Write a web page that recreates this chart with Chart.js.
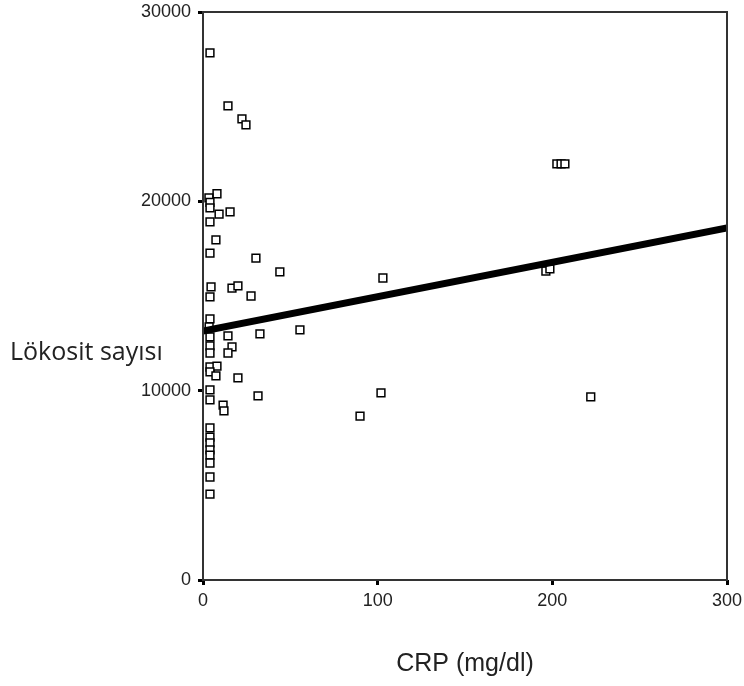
<!DOCTYPE html>
<html>
<head>
<meta charset="utf-8">
<script src="https://cdn.jsdelivr.net/npm/chart.js@4.4.0/dist/chart.umd.min.js"></script>
<style>
  body { margin: 0; background: #fff; }
  #wrap { width: 744px; height: 686px; }
</style>
</head>
<body>
<div id="wrap"><canvas id="chart" width="744" height="686"></canvas></div>
<script>
// CRP values (mg/dl) and matching leukocyte counts
const crp = [4, 14.3, 22.3, 24.6, 8, 3.4, 4, 4, 9.2, 15.5, 4, 7.4, 4, 30.3, 44,
  4.6, 16.6, 20, 4, 27.5, 4, 3.5, 55.5, 14.3, 32.6, 4, 4, 16.6, 14.3, 4, 4, 8,
  4, 7.4, 20, 4, 31.5, 4, 11.5, 12, 4, 4, 4, 4, 4, 4, 4, 4,
  202.6, 205, 207.2, 103, 196.3, 198.6, 101.9, 89.9, 222];
const lokosit = [27840, 25040, 24350, 24040, 20400, 20180, 19950, 19650, 19330, 19440, 18910, 17960, 17270, 17000, 16270,
  15480, 15420, 15530, 14950, 15000, 13790, 13370, 13210, 12890, 13000, 12840, 12360, 12310, 11990, 11990, 11250, 11300,
  10990, 10780, 10670, 10040, 9720, 9510, 9240, 8930, 8030, 7550, 7240, 6870, 6600, 6180, 5440, 4540,
  21980, 21980, 21980, 15950, 16320, 16430, 9880, 8660, 9670];

// fitted line end points
const fitX = [0, 300];
const fitY = [13150, 18590];

const xTicks = [0, 100, 200, 300];
const yTicks = [0, 10000, 20000, 30000];

const points = crp.map((v, i) => ({ x: v, y: lokosit[i] }));
const fitLine = fitX.map((v, i) => ({ x: v, y: fitY[i] }));

// box round the plot area and the horizontal y title
const frame = {
  id: 'frame',
  afterDraw(chart) {
    const { ctx, chartArea: a } = chart;
    ctx.save();
    ctx.strokeStyle = '#333';
    ctx.lineWidth = 2;
    ctx.strokeRect(a.left, a.top, a.right - a.left, a.bottom - a.top);
    ctx.fillStyle = '#222';
    ctx.font = '25px "Open Sans", sans-serif';
    ctx.textBaseline = 'middle';
    ctx.textAlign = 'left';
    ctx.fillText('Lökosit sayısı', 10, 353);
    ctx.restore();
  }
};

const tickFont = { family: 'Liberation Sans', size: 18 };

new Chart(document.getElementById('chart'), {
  type: 'scatter',
  data: {
    datasets: [
      {
        type: 'line',
        data: fitLine,
        borderColor: '#000',
        borderWidth: 7,
        pointRadius: 0,
        fill: false,
        order: 0
      },
      {
        data: points,
        pointStyle: 'rect',
        pointRadius: 5.5,
        pointBackgroundColor: '#fff',
        pointBorderColor: '#000',
        pointBorderWidth: 1.5,
        order: 1
      }
    ]
  },
  options: {
    responsive: false,
    animation: false,
    layout: { padding: { top: 12, right: 17, left: 0, bottom: 0 } },
    plugins: { legend: { display: false }, tooltip: { enabled: false } },
    scales: {
      x: {
        type: 'linear',
        min: 0,
        max: 300,
        afterBuildTicks: (s) => { s.ticks = xTicks.map(v => ({ value: v })); },
        afterFit: (s) => { s.height = 106; s.paddingLeft = 0; s.paddingRight = 0; },
        grid: { drawOnChartArea: false, tickLength: 5, tickWidth: 3, tickColor: '#000' },
        border: { display: false },
        ticks: { color: '#222', font: tickFont, padding: 5, callback: (v) => String(v) },
        title: { display: true, text: 'CRP (mg/dl)', color: '#222', font: { family: 'Liberation Sans', size: 25 }, padding: { top: 4, bottom: 7 } }
      },
      y: {
        min: 0,
        max: 30000,
        afterBuildTicks: (s) => { s.ticks = yTicks.map(v => ({ value: v })); },
        afterFit: (s) => { s.width = 203; s.paddingTop = 0; s.paddingBottom = 0; },
        grid: { drawOnChartArea: false, tickLength: 5, tickWidth: 3, tickColor: '#000' },
        border: { display: false },
        ticks: { color: '#222', font: tickFont, padding: 7, callback: (v) => String(v) }
      }
    }
  },
  plugins: [frame]
});
</script>
</body>
</html>
